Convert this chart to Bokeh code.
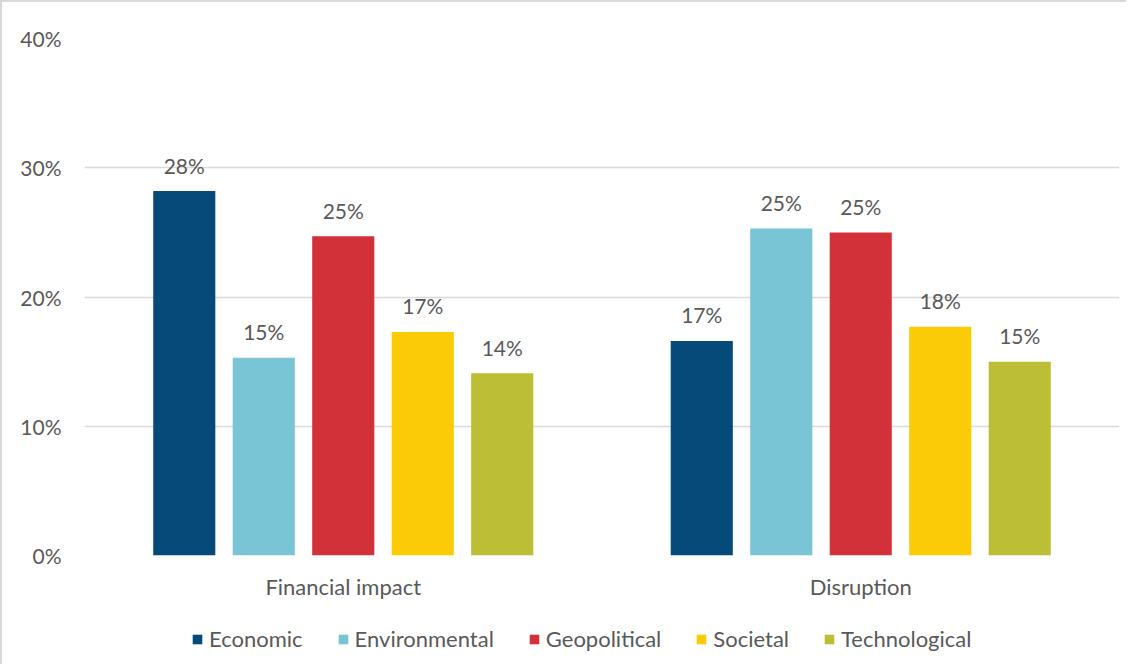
from bokeh.plotting import figure
from bokeh.layouts import column
from bokeh.models import (ColumnDataSource, FactorRange, Legend, LegendItem, LabelSet,
                          PrintfTickFormatter, Range1d)
from bokeh.core.properties import value
from bokeh.transform import dodge
from bokeh.embed import file_html
from bokeh.resources import INLINE

categories = ["Financial impact", "Disruption"]
series = ["Economic", "Environmental", "Geopolitical", "Societal", "Technological"]
colors = ["#054a79", "#79c4d5", "#d33139", "#fccb07", "#bcbe35"]
economic = [28.2, 16.6]
environmental = [15.3, 25.3]
geopolitical = [24.7, 25.0]
societal = [17.3, 17.7]
technological = [14.1, 15.0]
y_ticks = [0, 10, 20, 30, 40]

values = [economic, environmental, geopolitical, societal, technological]

FONT = "Lato"
FS = "22px"
FSN = "21px"
TXT = "#595959"

p = figure(x_range=FactorRange(*categories, range_padding=0), y_range=Range1d(0, 40),
           width=1124, height=600, output_backend="svg", toolbar_location=None,
           min_border_left=82, min_border_top=36, min_border_right=7, min_border_bottom=47)

# legend strip below the chart (its proxy bars are hidden; only the legend shows)
lp = figure(width=1124, height=62, output_backend="svg", toolbar_location=None,
            x_range=FactorRange(*categories, range_padding=0), y_range=Range1d(-100, -99),
            min_border_left=0, min_border_right=0, min_border_top=0, min_border_bottom=0)
lp.axis.visible = False
lp.grid.visible = False
lp.outline_line_color = None

step = 0.1536
bw = 0.12
items = []
for i, (name, vals, col) in enumerate(zip(series, values, colors)):
    src = ColumnDataSource(dict(x=categories, y=vals,
                                lbl=[f"{round(v)}%" for v in vals]))
    off = (i - 2) * step
    p.vbar(x=dodge("x", off, range=p.x_range), top="y", width=bw, source=src,
           fill_color=col, line_color=None)
    labels = LabelSet(x=dodge("x", off, range=p.x_range), y="y", text="lbl", source=src,
                      y_offset=26, text_align="center", text_baseline="middle",
                      text_font=value(FONT), text_font_size=value(FSN), text_color=TXT)
    p.add_layout(labels)
    r = lp.vbar(x=dodge("x", off, range=lp.x_range), top="y", bottom="y", width=bw,
                source=src, fill_color=col, line_color=None)
    r.visible = False
    items.append(LegendItem(label=name, renderers=[r]))

p.outline_line_color = None
p.xgrid.grid_line_color = None
p.ygrid.grid_line_color = "#d9d9d9"
p.ygrid.grid_line_width = 1.5
p.yaxis.ticker = y_ticks
p.yaxis.formatter = PrintfTickFormatter(format="%d%%")
for ax in (p.xaxis[0], p.yaxis[0]):
    ax.axis_line_color = None
    ax.major_tick_line_color = None
    ax.minor_tick_line_color = None
    ax.major_label_text_font = FONT
    ax.major_label_text_color = TXT
p.xaxis.major_label_text_font_size = FS
p.yaxis.major_label_text_font_size = FSN
p.yaxis.major_label_standoff = 17
p.xaxis.major_label_standoff = 11

legend = Legend(items=items, orientation="horizontal", location=(107, 12),
                label_text_font=FONT, label_text_font_size=FS, label_text_color=TXT,
                glyph_width=12, glyph_height=12, label_standoff=6, spacing=34,
                border_line_color=None, background_fill_alpha=0, margin=0, padding=2,
                inactive_fill_alpha=0)
lp.add_layout(legend, "center")

layout = column(p, lp, spacing=0)
layout.styles = {"border-top": "2px solid #d9d9d9", "border-left": "2px solid #d9d9d9"}

open("out.html", "w").write(file_html(layout, INLINE))
